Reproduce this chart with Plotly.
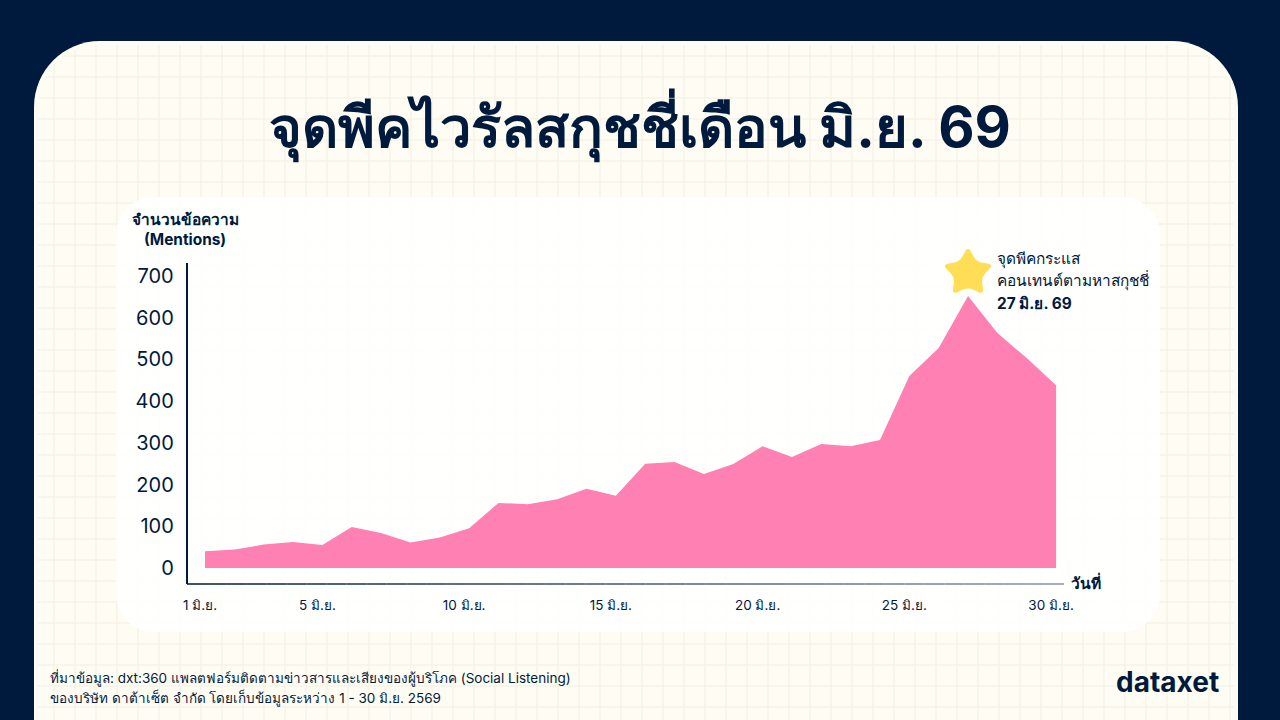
import math

import plotly.graph_objects as go

W = 1280
H = 720

NAVY = "#001A3D"
CREAM = "#FFFDF3"
GRID = "#F6F3E7"
PINK = "#FF80B3"
YELLOW = "#FFDD55"
FONT = "Inter, Noto Sans, sans-serif"

days = list(range(1, 31))
mentions = [40, 44, 56, 62, 55, 98, 84, 61, 73, 95,
            156, 153, 165, 190, 173, 250, 254, 225, 249, 292,
            266, 297, 292, 307, 460, 527, 652, 563, 503, 438]
x_tick_days = [1, 5, 10, 15, 20, 25, 30]
x_tick_labels = ["1 มิ.ย.", "5 มิ.ย.", "10 มิ.ย.", "15 มิ.ย.", "20 มิ.ย.", "25 มิ.ย.", "30 มิ.ย."]
y_ticks = [0, 100, 200, 300, 400, 500, 600, 700]


def px(x):
    return x / W


def py(y):
    return 1 - y / H


def rounded_rect(x0, y0, x1, y1, r):
    # paper coordinates, y measured from the top of the picture
    k = r * 0.448
    pts = [
        f"M {px(x0 + r)} {py(y0)}",
        f"L {px(x1 - r)} {py(y0)}",
        f"C {px(x1 - k)} {py(y0)} {px(x1)} {py(y0 + k)} {px(x1)} {py(y0 + r)}",
        f"L {px(x1)} {py(y1 - r)}",
        f"C {px(x1)} {py(y1 - k)} {px(x1 - k)} {py(y1)} {px(x1 - r)} {py(y1)}",
        f"L {px(x0 + r)} {py(y1)}",
        f"C {px(x0 + k)} {py(y1)} {px(x0)} {py(y1 - k)} {px(x0)} {py(y1 - r)}",
        f"L {px(x0)} {py(y0 + r)}",
        f"C {px(x0)} {py(y0 + k)} {px(x0 + k)} {py(y0)} {px(x0 + r)} {py(y0)}",
        "Z",
    ]
    return " ".join(pts)


def star_path(cx, cy, outer, inner):
    tips = []
    for i in range(10):
        r = outer if i % 2 == 0 else inner
        a = math.radians(-90 + 36 * i)
        tips.append((cx + r * math.cos(a), cy + r * math.sin(a)))
    path = ""
    for i in range(10):
        p = tips[i]
        prev = tips[i - 1]
        nxt = tips[(i + 1) % 10]
        t = 0.36
        a = (p[0] + (prev[0] - p[0]) * t, p[1] + (prev[1] - p[1]) * t)
        b = (p[0] + (nxt[0] - p[0]) * t, p[1] + (nxt[1] - p[1]) * t)
        path += ("M" if i == 0 else "L") + f" {px(a[0])} {py(a[1])} "
        path += f"Q {px(p[0])} {py(p[1])} {px(b[0])} {py(b[1])} "
    return path + "Z"


def corner_inset(d, r=66):
    # how far the rounded corner of the cream sheet cuts in at distance d from its edge
    if d >= r:
        return 4
    return r - math.sqrt(r * r - (r - d) ** 2) + 4


shapes = [
    dict(type="rect", xref="paper", yref="paper", x0=0, x1=1, y0=0, y1=1,
         fillcolor=NAVY, line_width=0, layer="below"),
    dict(type="path", xref="paper", yref="paper", path=rounded_rect(34, 41, 1238, 800, 66),
         fillcolor=CREAM, line_width=0, layer="below"),
]

# squared paper background
for gx in range(54, 1238, 21):
    d = min(gx - 34, 1238 - gx)
    shapes.append(dict(type="line", xref="paper", yref="paper", x0=px(gx), x1=px(gx),
                       y0=py(41 + corner_inset(d)), y1=0,
                       line=dict(color=GRID, width=1.5), layer="below"))
for gy in range(56, 720, 21):
    inset = corner_inset(gy - 41)
    shapes.append(dict(type="line", xref="paper", yref="paper", x0=px(34 + inset), x1=px(1238 - inset),
                       y0=py(gy), y1=py(gy),
                       line=dict(color=GRID, width=1.5), layer="below"))

shapes.append(dict(type="path", xref="paper", yref="paper", path=rounded_rect(116, 197, 1160, 632, 38),
                   fillcolor="rgba(255,255,255,0.85)", line_width=0, layer="below"))
shapes.append(dict(type="path", xref="paper", yref="paper", path=star_path(968, 273, 27, 14),
                   fillcolor=YELLOW, line_width=0, layer="above"))

# the x axis line fades from navy to grey towards the right
FADE_STEPS = 44
for i in range(FADE_STEPS):
    f = i / (FADE_STEPS - 1)
    col = f"rgb({int(0 + 138 * f)},{int(26 + 122 * f)},{int(61 + 107 * f)})"
    shapes.append(dict(type="line", xref="paper", yref="paper",
                       x0=px(187 + 877 * i / FADE_STEPS), x1=px(187 + 877 * (i + 1) / FADE_STEPS),
                       y0=py(584), y1=py(584), line=dict(color=col, width=1.5), layer="above"))

fig = go.Figure()
fig.add_trace(go.Scatter(
    x=days,
    y=mentions,
    mode="lines",
    line=dict(width=0, color=PINK),
    fill="tozeroy",
    fillcolor=PINK,
    hoverinfo="skip",
    showlegend=False,
))


def note(x, y, text, size, bold=False, anchor="left", color=NAVY):
    return dict(xref="paper", yref="paper", x=px(x), y=py(y), text=f"<b>{text}</b>" if bold else text,
                showarrow=False, xanchor=anchor, yanchor="middle", align=anchor,
                font=dict(family=FONT, size=size, color=color))


annotations = [
    note(640, 125, "จุดพีคไวรัลสกุชชี่เดือน มิ.ย. 69", 56, True, "center"),
    note(185, 219, "จำนวนข้อความ", 15.4, True, "center"),
    note(185, 240, "(Mentions)", 15.4, True, "center"),
    note(1069, 582, "วันที่", 15.5, True),
    note(995, 259, "จุดพีคกระแส", 15.4),
    note(995, 281, "คอนเทนต์ตามหาสกุชชี่", 15.4),
    note(995, 303, "27 มิ.ย. 69", 15.4, True),
    note(48, 678, "ที่มาข้อมูล: dxt:360 แพลตฟอร์มติดตามข่าวสารและเสียงของผู้บริโภค (Social Listening)", 13.5),
    note(48, 698, "ของบริษัท ดาต้าเซ็ต จำกัด โดยเก็บข้อมูลระหว่าง 1 - 30 มิ.ย. 2569", 13.5),
    note(1221, 682, "dataxet", 28, True, "right"),
]

fig.update_layout(
    width=W,
    height=H,
    margin=dict(l=0, r=0, t=0, b=0, autoexpand=False),
    paper_bgcolor=NAVY,
    plot_bgcolor="rgba(0,0,0,0)",
    font=dict(family=FONT, color=NAVY),
    shapes=shapes,
    annotations=annotations,
    xaxis=dict(
        domain=[px(187.5), px(1064)],
        range=[0.4036, 30.27],
        tickvals=x_tick_days,
        ticktext=x_tick_labels,
        showgrid=False,
        zeroline=False,
        showline=False,
        ticks="",
        ticklabelstandoff=11,
        ticklabelshift=-5,
        tickfont=dict(size=13.5, color=NAVY),
    ),
    yaxis=dict(
        domain=[py(584), py(263)],
        range=[-38.4, 731],
        tickvals=y_ticks,
        showgrid=False,
        zeroline=False,
        showline=True,
        linecolor=NAVY,
        linewidth=1.5,
        ticks="",
        ticklabelstandoff=8,
        tickfont=dict(size=20, color=NAVY),
    ),
)

fig.write_html("out.html", config={"displayModeBar": False}, post_script="document.body.style.margin='0';")
